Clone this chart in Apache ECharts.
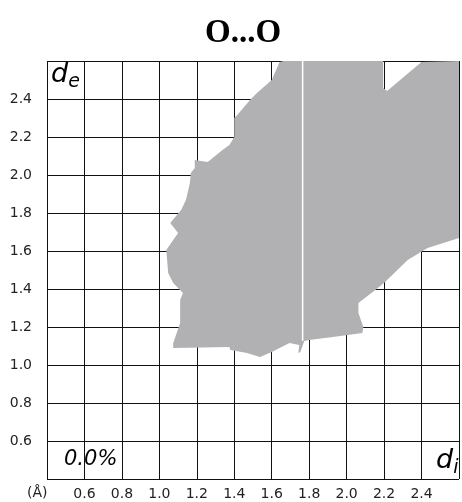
<!DOCTYPE html>
<html><head><meta charset="utf-8">
<script src="https://cdn.jsdelivr.net/npm/echarts@6/dist/echarts.min.js"></script>
<style>html,body{margin:0;padding:0;background:#fff}#c{width:462px;height:502px}</style>
</head><body><div id="c"></div>
<script>
// Axis ticks (Å)
const axisMin = 0.4, axisMax = 2.6, axisStep = 0.2;
// Outline of the fingerprint region (d_i, d_e)
const regionDi = [1.663,2.195,2.195,2.216,2.4,2.6,2.6,2.432,2.326,2.205,2.153,2.063,2.063,2.089,2.084,1.926,1.8,1.774,1.753,1.742,1.747,1.695,1.6,1.537,1.468,1.379,1.374,1.074,1.074,1.111,1.111,1.126,1.074,1.047,1.037,1.074,1.100,1.058,1.116,1.142,1.163,1.168,1.189,1.189,1.258,1.337,1.374,1.4,1.4,1.416,1.484,1.521,1.6,1.642];
const regionDe = [2.6,2.6,2.458,2.442,2.595,2.6,1.668,1.616,1.553,1.437,1.395,1.326,1.274,1.2,1.168,1.147,1.132,1.126,1.068,1.063,1.105,1.116,1.068,1.042,1.063,1.079,1.095,1.089,1.116,1.221,1.342,1.379,1.432,1.484,1.605,1.658,1.695,1.747,1.816,1.868,1.958,2.011,2.037,2.079,2.068,2.132,2.158,2.2,2.3,2.316,2.395,2.432,2.5,2.595];
// White gap line at constant d_i
const gapDi = [1.765, 1.765];
const gapDe = [1.128, 2.6];
const percent = '0.0%';

const chart = echarts.init(document.getElementById('c'));
const fmt = v => (Math.abs(v - axisMin) < 1e-6 || Math.abs(v - axisMax) < 1e-6) ? '' : v.toFixed(1);
const axisCommon = {
  type: 'value', min: axisMin, max: axisMax, interval: axisStep,
  axisLine: {show: false}, axisTick: {show: false},
  splitLine: {show: true, lineStyle: {color: '#111', width: 1}},
};
function polySeries(di, de, color, z) {
  return {
    type: 'custom', coordinateSystem: 'cartesian2d', clip: true, z: z,
    data: di.map((d, i) => [d, de[i]]),
    renderItem: function (params, api) {
      if (params.dataIndex !== 0) return null;
      const pts = di.map((d, i) => api.coord([d, de[i]]));
      return {type: 'polygon', shape: {points: pts}, style: {fill: color, stroke: null}};
    }
  };
}
const rich = {
  d: {fontFamily: 'DejaVu Sans', fontStyle: 'italic', fontSize: 27, fill: '#000', verticalAlign: 'bottom'},
  s: {fontFamily: 'DejaVu Sans', fontStyle: 'italic', fontSize: 19, fill: '#000', verticalAlign: 'bottom', padding: [0,0,-4,0]}
};
chart.setOption({
  animation: false,
  title: {text: 'O...O', left: 238, top: 12, textAlign: 'center',
    textStyle: {fontFamily: 'Liberation Serif', fontWeight: 'bold', fontSize: 33, color: '#000'}},
  grid: {left: 47, top: 61, width: 418, height: 418},
  xAxis: Object.assign({}, axisCommon, {
    axisLabel: {formatter: fmt, margin: 8, fontFamily: 'DejaVu Sans', fontSize: 14, color: '#222'}
  }),
  yAxis: Object.assign({}, axisCommon, {
    axisLabel: {formatter: fmt, margin: 15, fontFamily: 'DejaVu Sans', fontSize: 14, color: '#222'}
  }),
  graphic: [
    {type: 'text', left: 27, top: 486, style: {text: '(Å)', font: '14px "DejaVu Sans"', fill: '#222'}},
    {type: 'text', left: 51, top: 61, z: 100, style: {text: '{d|d}{s|e}', rich: rich}},
    {type: 'text', left: 64, top: 449, z: 100, style: {text: percent, font: 'italic 21px "DejaVu Sans"', fill: '#000'}},
    {type: 'text', left: 436, top: 447, z: 100, style: {text: '{d|d}{s|i}', rich: rich}}
  ],
  series: [
    polySeries(regionDi, regionDe, '#b1b0b3', 2),
    {
      type: 'line', data: gapDi.map((d, i) => [d, gapDe[i]]), symbol: 'none',
      lineStyle: {color: '#ffffff', width: 1.5}, z: 5
    }
  ]
});
</script></body></html>
